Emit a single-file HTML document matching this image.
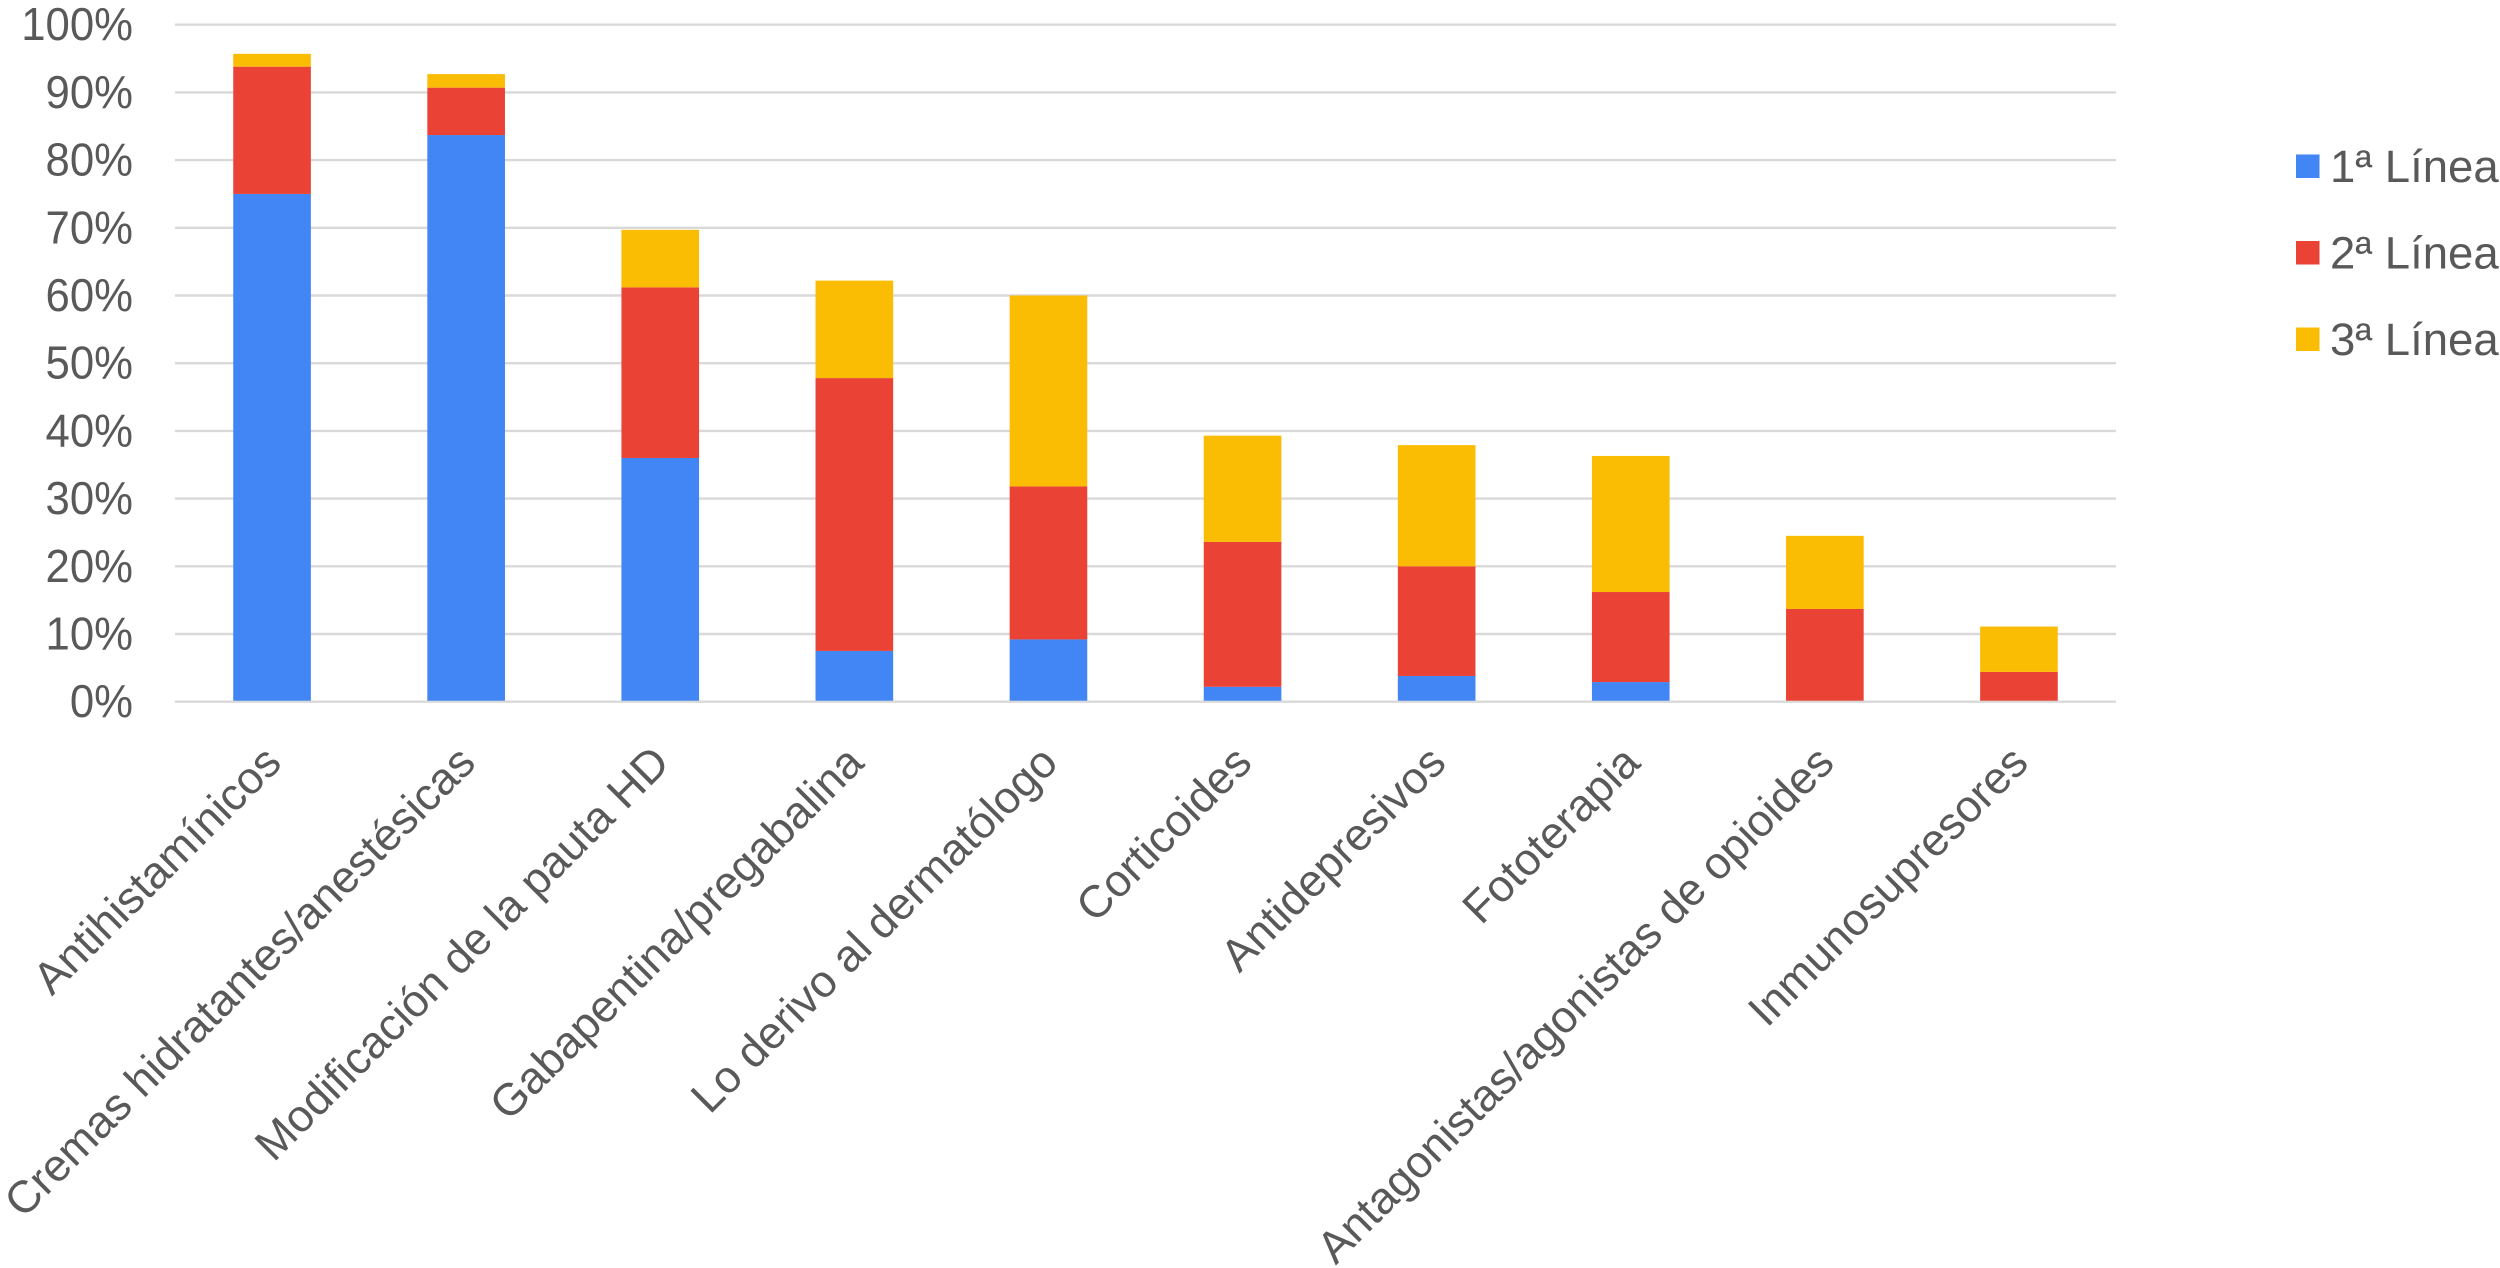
<!DOCTYPE html>
<html lang="es">
<head>
<meta charset="utf-8">
<title>Tratamientos por línea</title>
<style>
html,body{margin:0;padding:0;background:#fff;}
svg{display:block;}
text{font-family:"Liberation Sans",sans-serif;fill:#595959;}
</style>
</head>
<body>
<svg id="chart" xmlns="http://www.w3.org/2000/svg" width="2500" height="1268" viewBox="0 0 2500 1268">
<rect x="0" y="0" width="2500" height="1268" fill="#ffffff"/>
</svg>
<script>
const categories = ["Antihistamínicos","Cremas hidratantes/anestésicas","Modificación de la pauta HD","Gabapentina/pregabalina","Lo derivo al dermatólogo","Corticoides","Antidepresivos","Fototerapia","Antagonistas/agonistas de opioides","Inmunosupresores"];
const linea1 = [75, 83.7, 36, 7.5, 9.2, 2.2, 3.8, 2.9, 0, 0];
const linea2 = [18.8, 7, 25.2, 40.3, 22.6, 21.4, 16.2, 13.3, 13.7, 4.4];
const linea3 = [1.9, 2, 8.5, 14.4, 28.2, 15.7, 17.9, 20.1, 10.8, 6.7];
const yTicks = [0, 10, 20, 30, 40, 50, 60, 70, 80, 90, 100];
const seriesNames = ["1ª Línea", "2ª Línea", "3ª Línea"];

const svg = document.getElementById('chart');
const NS = 'http://www.w3.org/2000/svg';
const plot = {left: 175, right: 2116, top: 24.7, bottom: 701.7};
const colors = ['#4285f4', '#ea4335', '#fbbc04'];

function yScale(v) { return plot.bottom - (v / 100) * (plot.bottom - plot.top); }
function xBand() { return (plot.right - plot.left) / categories.length; }
function xCenter(i) { return plot.left + xBand() * (i + 0.5); }
function make(tag, attrs) {
  const el = document.createElementNS(NS, tag);
  for (const k in attrs) el.setAttribute(k, attrs[k]);
  svg.appendChild(el);
  return el;
}

yTicks.forEach(function (t) {
  const line = make('line', {x1: plot.left, x2: plot.right, y1: yScale(t), y2: yScale(t), stroke: '#d9d9d9', 'stroke-width': 2.4});
  
  
  const label = make('text', {x: 0, y: 0, 'text-anchor': 'end', 'font-size': 46, transform: 'translate(133 ' + (yScale(t) + 15.5) + ') scale(0.95 1)'});
  
  
  label.textContent = t + '%';
});

const allSeries = [linea1, linea2, linea3];
const barWidth = xBand() * 0.4;
categories.forEach(function (name, i) {
  let acc = 0;
  allSeries.forEach(function (series, s) {
    const v = series[i];
    const y0 = yScale(acc);
    const y1 = yScale(acc + v);
    acc += v;
    if (v <= 0) return;
    const bar = make('rect', {x: xCenter(i) - barWidth / 2, y: y1, width: barWidth, height: y0 - y1 - (acc === v ? 1 : 0), fill: colors[s]});
    
    
  });
  const lx = xCenter(i) + 11.5;
  const ly = 765;
  const label = make('text', {x: lx, y: ly, 'text-anchor': 'end', 'font-size': 45, transform: 'rotate(-45 ' + lx + ' ' + ly + ')'});
  
  
  label.textContent = name;
});

seriesNames.forEach(function (name, s) {
  const top = 154.5 + s * 86.5;
  const swatch = make('rect', {x: 2296, y: top, width: 23.5, height: 23.5, fill: colors[s]});
  
  
  const label = make('text', {x: 2330, y: top + 27.5, 'font-size': 45.5});
  
  
  label.textContent = name;
});
</script>
</body>
</html>
